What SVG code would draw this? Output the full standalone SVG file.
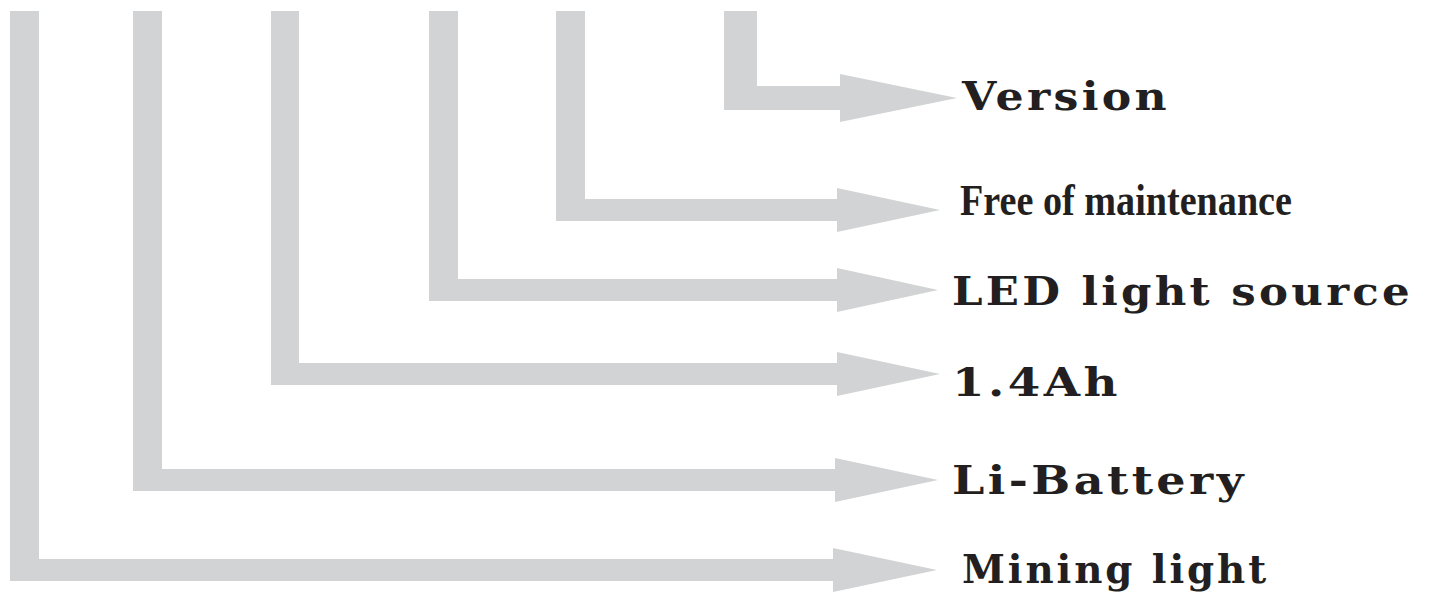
<svg xmlns="http://www.w3.org/2000/svg" width="1429" height="599" viewBox="0 0 1429 599">
<style>
.arr{fill:#d1d3d4;stroke:none}
.lbl{font-family:"DejaVu Serif","Liberation Serif",serif;font-weight:bold;font-size:40px;letter-spacing:3px;fill:#231f20}
.cond{font-family:"Liberation Serif","DejaVu Serif",serif;font-weight:bold;font-size:45px;fill:#231f20}
</style>
<rect width="1429" height="599" fill="#ffffff"/>
<g id="connectors">
<path class="arr" d="M724 11H757V86H840V74L957 98L840 122V110H724Z"/>
<path class="arr" d="M556 11H585V199H837V188L940 210L837 232V221H556Z"/>
<path class="arr" d="M429 11H458V279H837V268L938 290L837 312V301H429Z"/>
<path class="arr" d="M271 11H299V363H837V352L940 374L837 396V385H271Z"/>
<path class="arr" d="M133 11H162V469H835V458L938 480L835 502V491H133Z"/>
<path class="arr" d="M10 11H39V559H833V548L937 570L833 592V581H10Z"/>
</g>
<g id="version"><text class="lbl" x="962" y="110" textLength="208" lengthAdjust="spacingAndGlyphs">Version</text></g>
<g id="free-of-maintenance"><text class="cond" x="960" y="215" textLength="332" lengthAdjust="spacingAndGlyphs">Free of maintenance</text></g>
<g id="led-light-source"><text class="lbl" x="952" y="305" textLength="461" lengthAdjust="spacingAndGlyphs">LED light source</text></g>
<g id="capacity"><text class="lbl" x="952" y="396" textLength="169" lengthAdjust="spacingAndGlyphs">1.4Ah</text></g>
<g id="li-battery"><text class="lbl" x="952" y="494" textLength="295" lengthAdjust="spacingAndGlyphs">Li-Battery</text></g>
<g id="mining-light"><text class="lbl" x="962" y="583" textLength="307" lengthAdjust="spacingAndGlyphs">Mining light</text></g>
</svg>
